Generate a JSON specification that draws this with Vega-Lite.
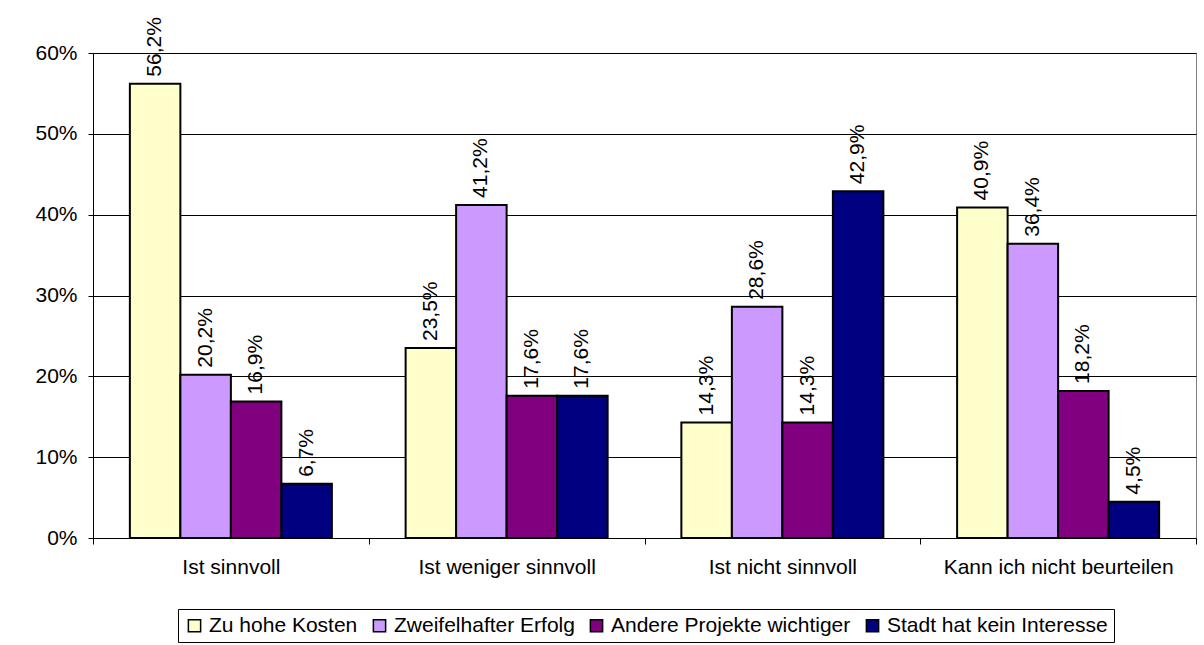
{
  "$schema": "https://vega.github.io/schema/vega-lite/v6.json",
  "width": 1103,
  "height": 485,
  "autosize": {"type": "none"},
  "padding": {"left": 93, "top": 53, "right": 8, "bottom": 107},
  "background": "white",
  "config": {
    "locale": {"number": {"decimal": ",", "thousands": ".", "grouping": [3], "currency": ["", " €"]}},
    "font": "Liberation Sans",
    "view": {"stroke": "#808080", "strokeWidth": 1}
  },
  "data": {
    "values": [
      {"Antwort": "Ist sinnvoll", "Grund": "Zu hohe Kosten", "Anteil": 0.562},
      {"Antwort": "Ist sinnvoll", "Grund": "Zweifelhafter Erfolg", "Anteil": 0.202},
      {"Antwort": "Ist sinnvoll", "Grund": "Andere Projekte wichtiger", "Anteil": 0.169},
      {"Antwort": "Ist sinnvoll", "Grund": "Stadt hat kein Interesse", "Anteil": 0.067},
      {"Antwort": "Ist weniger sinnvoll", "Grund": "Zu hohe Kosten", "Anteil": 0.235},
      {"Antwort": "Ist weniger sinnvoll", "Grund": "Zweifelhafter Erfolg", "Anteil": 0.412},
      {"Antwort": "Ist weniger sinnvoll", "Grund": "Andere Projekte wichtiger", "Anteil": 0.176},
      {"Antwort": "Ist weniger sinnvoll", "Grund": "Stadt hat kein Interesse", "Anteil": 0.176},
      {"Antwort": "Ist nicht sinnvoll", "Grund": "Zu hohe Kosten", "Anteil": 0.143},
      {"Antwort": "Ist nicht sinnvoll", "Grund": "Zweifelhafter Erfolg", "Anteil": 0.286},
      {"Antwort": "Ist nicht sinnvoll", "Grund": "Andere Projekte wichtiger", "Anteil": 0.143},
      {"Antwort": "Ist nicht sinnvoll", "Grund": "Stadt hat kein Interesse", "Anteil": 0.429},
      {"Antwort": "Kann ich nicht beurteilen", "Grund": "Zu hohe Kosten", "Anteil": 0.409},
      {"Antwort": "Kann ich nicht beurteilen", "Grund": "Zweifelhafter Erfolg", "Anteil": 0.364},
      {"Antwort": "Kann ich nicht beurteilen", "Grund": "Andere Projekte wichtiger", "Anteil": 0.182},
      {"Antwort": "Kann ich nicht beurteilen", "Grund": "Stadt hat kein Interesse", "Anteil": 0.045}
    ]
  },
  "encoding": {
    "x": {
      "field": "Antwort",
      "type": "nominal",
      "sort": ["Ist sinnvoll", "Ist weniger sinnvoll", "Ist nicht sinnvoll", "Kann ich nicht beurteilen"],
      "scale": {"paddingInner": 0, "paddingOuter": 0},
      "axis": {
        "title": null,
        "labelAngle": 0,
        "tickBand": "extent",
        "tickSize": 6,
        "tickColor": "black",
        "domainColor": "black",
        "labelFontSize": 21,
        "labelColor": "black",
        "labelPadding": 12,
        "labelLimit": 400,
        "grid": false
      }
    },
    "xOffset": {
      "field": "Grund",
      "type": "nominal",
      "sort": ["Zu hohe Kosten", "Zweifelhafter Erfolg", "Andere Projekte wichtiger", "Stadt hat kein Interesse"],
      "scale": {"paddingInner": 0, "paddingOuter": 0.73}
    },
    "y": {
      "field": "Anteil",
      "type": "quantitative",
      "scale": {"domain": [0, 0.6], "nice": false},
      "axis": {
        "title": null,
        "format": ".0%",
        "values": [0, 0.1, 0.2, 0.3, 0.4, 0.5, 0.6],
        "grid": true,
        "gridColor": "black",
        "gridWidth": 1,
        "gridOpacity": 1,
        "domainColor": "black",
        "tickColor": "black",
        "tickSize": 5,
        "labelFontSize": 21,
        "labelColor": "black",
        "labelPadding": 11
      }
    }
  },
  "layer": [
    {
      "mark": {"type": "bar", "stroke": "black", "strokeWidth": 2},
      "encoding": {
        "color": {
          "field": "Grund",
          "type": "nominal",
          "scale": {
            "domain": ["Zu hohe Kosten", "Zweifelhafter Erfolg", "Andere Projekte wichtiger", "Stadt hat kein Interesse"],
            "range": ["#FFFFCC", "#CC99FF", "#800080", "#000080"]
          },
          "legend": {
            "orient": "none",
            "legendX": 85,
            "legendY": 556,
            "direction": "horizontal",
            "title": null,
            "symbolType": "square",
            "symbolSize": 150,
            "symbolStrokeColor": "black",
            "symbolStrokeWidth": 1.5,
            "symbolOpacity": 1,
            "labelFontSize": 21,
            "labelColor": "black",
            "labelOffset": 4,
            "labelLimit": 400,
            "columnPadding": 11,
            "padding": 6,
            "strokeColor": "black",
            "fillColor": "white"
          }
        }
      }
    },
    {
      "mark": {"type": "text", "angle": 270, "align": "left", "baseline": "middle", "dx": 7, "fontSize": 21, "color": "black"},
      "encoding": {
        "text": {"field": "Anteil", "type": "quantitative", "format": ".1%"}
      }
    }
  ]
}
